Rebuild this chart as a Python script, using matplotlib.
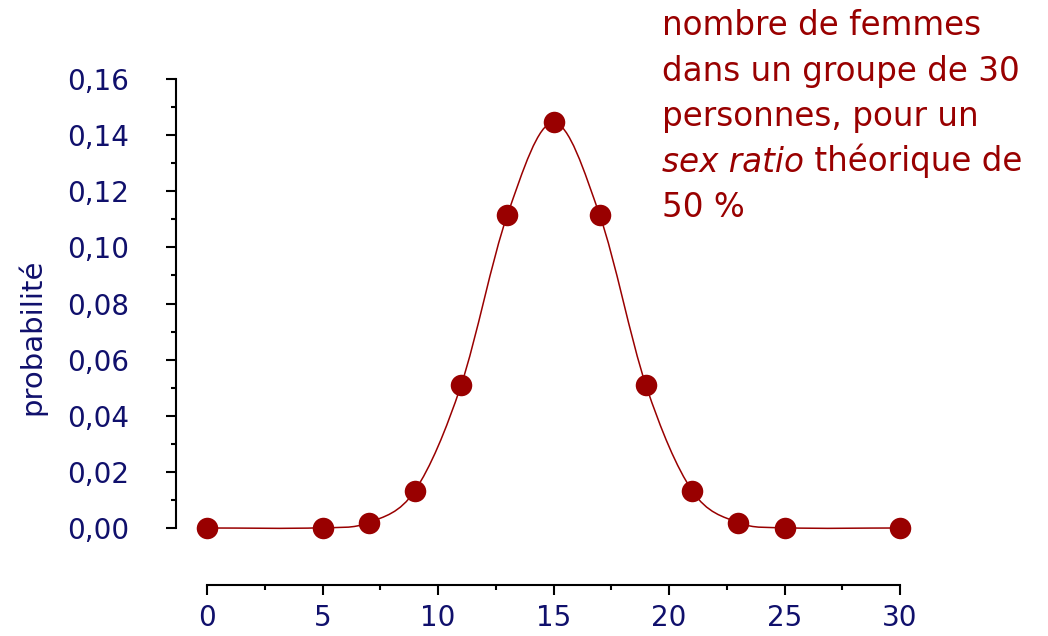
import matplotlib
matplotlib.use("Agg")
import matplotlib.pyplot as plt
from matplotlib.path import Path
from matplotlib.patches import PathPatch
from matplotlib.ticker import FixedLocator, FuncFormatter

# data
k_values = [0, 5, 7, 9, 11, 13, 15, 17, 19, 21, 23, 25, 30]
probabilities = [0.0, 0.0001, 0.0019, 0.0133, 0.0509, 0.1115, 0.1445,
                 0.1115, 0.0509, 0.0133, 0.0019, 0.0001, 0.0]
x_ticks = [0, 5, 10, 15, 20, 25, 30]
x_minor = [2.5, 7.5, 12.5, 17.5, 22.5, 27.5]
y_ticks = [0.0, 0.02, 0.04, 0.06, 0.08, 0.10, 0.12, 0.14, 0.16]
y_minor = [0.01, 0.03, 0.05, 0.07, 0.09, 0.11, 0.13, 0.15]
ylabel = "probabilité"
title_lines = ["nombre de femmes", "dans un groupe de 30",
               "personnes, pour un"]
title_italic = "sex ratio"
title_rest = " théorique de"
title_last = "50 %"

RED = "#990000"
NAVY = "#10106c"
W, H = 1048, 636

plt.rcParams['font.family'] = ['DejaVu Sans']
fig = plt.figure(figsize=(W / 100, H / 100), dpi=100)

# axes in pixel geometry
left_px, right_px, top_px, bottom_px = 176, 1000, 79, 585
ax = fig.add_axes([left_px / W, 1 - bottom_px / H,
                   (right_px - left_px) / W, (bottom_px - top_px) / H])

x0_px, x30_px = 207, 900
ppu = (x30_px - x0_px) / 30.0
ax.set_xlim((left_px - x0_px) / ppu, (right_px - x0_px) / ppu)
y0_px, y16_px = 528, 79
ppy = (y0_px - y16_px) / 0.16
ax.set_ylim(-(bottom_px - y0_px) / ppy, 0.16)

# smooth curve (cubic Hermite via Bezier path)
n = len(k_values)
slopes = []
for i in range(n):
    if i == 0:
        m = (probabilities[1] - probabilities[0]) / (k_values[1] - k_values[0])
    elif i == n - 1:
        m = (probabilities[-1] - probabilities[-2]) / (k_values[-1] - k_values[-2])
    else:
        m = (probabilities[i + 1] - probabilities[i - 1]) / (k_values[i + 1] - k_values[i - 1])
    slopes.append(m)
verts = [(k_values[0], probabilities[0])]
codes = [Path.MOVETO]
for i in range(n - 1):
    dx = k_values[i + 1] - k_values[i]
    verts += [(k_values[i] + dx / 3, probabilities[i] + slopes[i] * dx / 3),
              (k_values[i + 1] - dx / 3, probabilities[i + 1] - slopes[i + 1] * dx / 3),
              (k_values[i + 1], probabilities[i + 1])]
    codes += [Path.CURVE4] * 3
ax.add_patch(PathPatch(Path(verts, codes), facecolor='none', edgecolor=RED,
                       lw=1.1, clip_on=False))
ax.plot(k_values, probabilities, 'o', color=RED, markersize=15.5,
        markeredgewidth=0, clip_on=False, zorder=3)

# spines
for s in ['top', 'right']:
    ax.spines[s].set_visible(False)
ax.spines['left'].set_bounds(0, 0.16)
ax.spines['bottom'].set_bounds(0, 30)
for s in ['left', 'bottom']:
    ax.spines[s].set_linewidth(1.5)

ax.set_xticks(x_ticks)
ax.xaxis.set_minor_locator(FixedLocator(x_minor))
ax.set_yticks(y_ticks)
ax.yaxis.set_minor_locator(FixedLocator(y_minor))
ax.yaxis.set_major_formatter(FuncFormatter(lambda v, p: f"{v:.2f}".replace('.', ',')))
ax.tick_params(axis='both', which='major', length=7, width=1.5, colors='black',
               labelcolor=NAVY, labelsize=20, direction='out')
ax.tick_params(axis='both', which='minor', length=3.5, width=1.5, direction='out')
ax.tick_params(axis='y', which='major', pad=27)
ax.tick_params(axis='x', which='major', pad=7)

fig.text(32 / W, 1 - 337 / H, ylabel, rotation=90, ha='center', va='center',
         color=NAVY, fontsize=21)

# annotation text
tx = 662 / W
baselines = [35, 80.5, 126, 171.5, 217]
fs = 23.5
for line, b in zip(title_lines, baselines[:3]):
    fig.text(tx, 1 - b / H, line, color=RED, fontsize=fs, va='baseline', ha='left')
t_it = fig.text(tx, 1 - baselines[3] / H, title_italic, color=RED, fontsize=fs,
                style='italic', va='baseline', ha='left')
fig.draw_without_rendering()
bb = t_it.get_window_extent()
fig.text(bb.x1 / W, 1 - baselines[3] / H, title_rest, color=RED, fontsize=fs,
         va='baseline', ha='left')
fig.text(tx, 1 - baselines[4] / H, title_last, color=RED, fontsize=fs,
         va='baseline', ha='left')

fig.savefig("out.png", dpi=100)
